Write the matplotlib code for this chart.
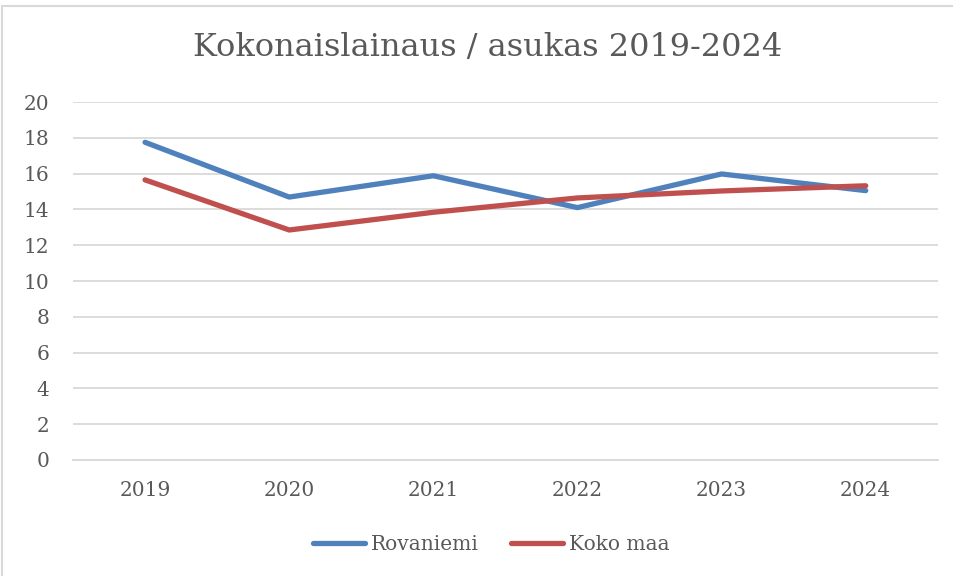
import matplotlib.pyplot as plt
from matplotlib.patches import Rectangle

years = ['2019', '2020', '2021', '2022', '2023', '2024']
rovaniemi = [17.75, 14.69, 15.88, 14.1, 15.98, 15.05]
koko_maa = [15.65, 12.85, 13.84, 14.64, 15.03, 15.32]
y_ticks = [0, 2, 4, 6, 8, 10, 12, 14, 16, 18, 20]

text_color = '#595959'
grid_color = '#D9D9D9'
plt.rcParams['font.family'] = ['DejaVu Serif']

fig = plt.figure(figsize=(9.54, 5.76), dpi=100)
ax = fig.add_axes([0.0765, 0.2014, 0.9065, 0.6215])

x = list(range(len(years)))
ax.plot(x, rovaniemi, color='#4F81BD', lw=3.8, solid_capstyle='round', label='Rovaniemi', zorder=3)
ax.plot(x, koko_maa, color='#C0504D', lw=3.8, solid_capstyle='round', label='Koko maa', zorder=3)

ax.set_xlim(-0.5, len(years) - 0.5)
ax.set_ylim(0, 20)
ax.set_yticks(y_ticks)
ax.set_xticks(x)
ax.set_xticklabels(years)
ax.grid(axis='y', color=grid_color, lw=1.3)
ax.set_axisbelow(True)
for s in ['top', 'right', 'left']:
    ax.spines[s].set_visible(False)
ax.spines['bottom'].set_color(grid_color)
ax.spines['bottom'].set_linewidth(1.3)
ax.tick_params(length=0, labelsize=14.5, labelcolor=text_color)
ax.tick_params(axis='x', pad=15)
ax.tick_params(axis='y', pad=17)

fig.text(0.511, 0.918, 'Kokonaislainaus / asukas 2019-2024', ha='center', va='center',
         fontsize=23, color=text_color)

leg = fig.legend(loc='center', bbox_to_anchor=(0.515, 0.055), ncol=2, frameon=False,
                 fontsize=14.5, handlelength=2.6, handletextpad=0.3, columnspacing=1.6)
for t in leg.get_texts():
    t.set_color(text_color)

# chart border
fig.patches.append(Rectangle((0.002, -0.01), 1.2, 1.0, transform=fig.transFigure,
                             fill=False, edgecolor=grid_color, lw=1.5))

fig.savefig('out.png', dpi=100)
